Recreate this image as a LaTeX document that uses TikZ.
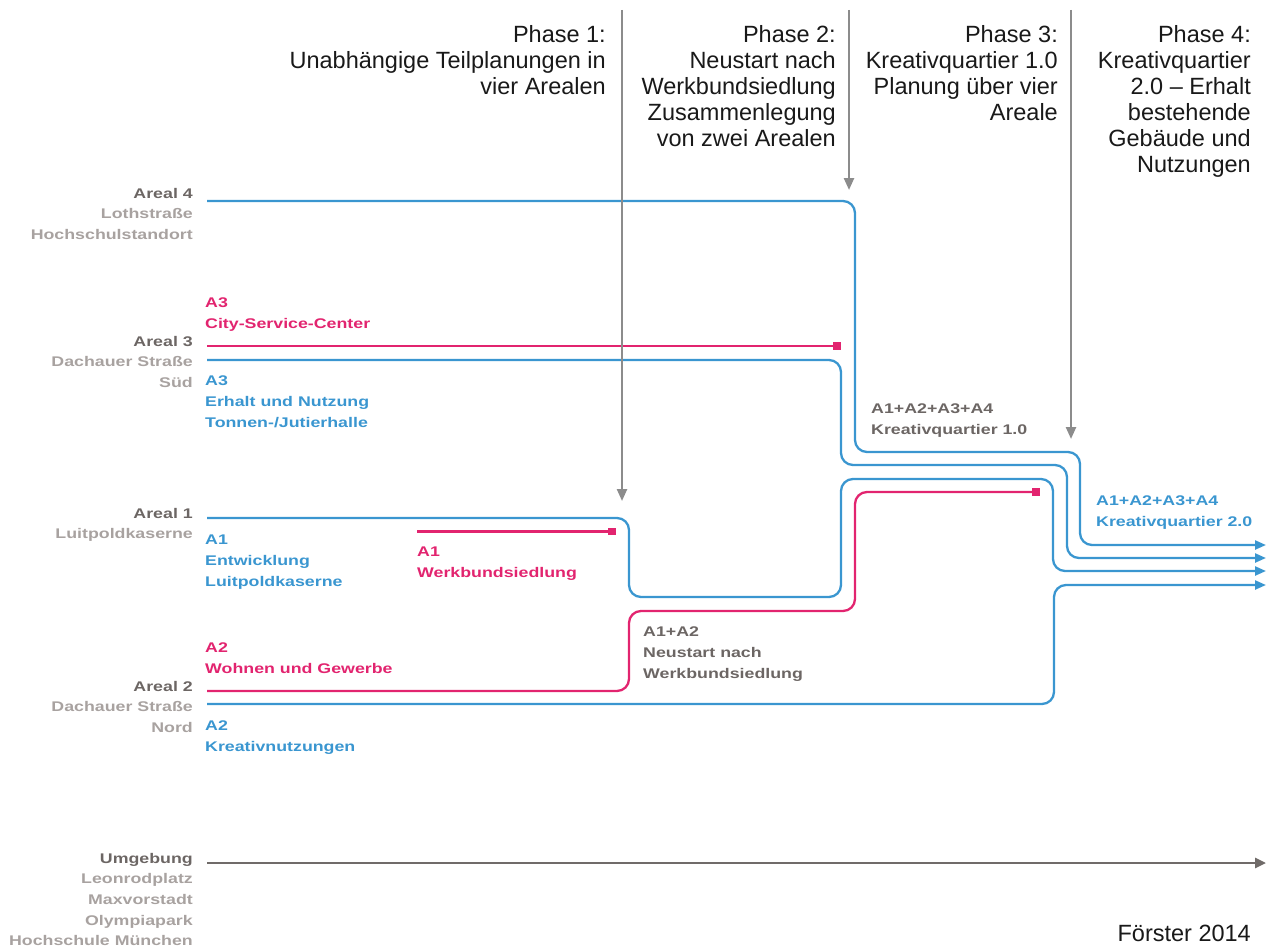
\documentclass[tikz,border=0pt]{standalone}
\usepackage{fontspec}
\setmainfont{Liberation Sans}
\newfontfamily\labelfont[FakeStretch=1.27]{Liberation Sans Bold}
\usetikzlibrary{arrows.meta}

\definecolor{flowblue}{RGB}{58,150,208}
\definecolor{flowpink}{RGB}{226,36,111}
\definecolor{areadark}{RGB}{108,102,100}
\definecolor{arealight}{RGB}{168,162,160}
\definecolor{phasegray}{RGB}{140,140,140}
\definecolor{envgray}{RGB}{112,107,105}

\begin{document}
\begin{tikzpicture}[x=1pt,y=-1pt,
  flow/.style={line width=2.3pt, rounded corners=12pt},
  bluefl/.style={flow, draw=flowblue},
  pinkfl/.style={flow, draw=flowpink},
  outarrow/.style={-{Triangle[length=11pt,width=9pt]}},
  endmark/.style={fill=flowpink, draw=none, minimum size=7.5pt, inner sep=0pt},
  phaseline/.style={draw=phasegray, line width=2.4pt, -{Triangle[length=12pt,width=10pt]}},
  envline/.style={draw=envgray, line width=2.6pt, -{Triangle[length=11pt,width=10pt]}},
  phasetext/.style={anchor=north east, inner sep=0pt, align=right, text=black!90,
    font={\fontsize{23.5}{26}\selectfont}},
  arealabel/.style={anchor=north east, inner sep=0pt, align=right, text=arealight,
    font={\labelfont\fontsize{14}{20.6}\selectfont}},
  usetext/.style={anchor=north west, inner sep=0pt, align=left,
    font={\labelfont\fontsize{14}{20.6}\selectfont}},
]
\useasboundingbox (0,0) rectangle (1268,950);

% entry and exit points of the flows
\coordinate (a4in) at (207,201);
\coordinate (a3pin) at (207,346);
\coordinate (a3bin) at (207,360);
\coordinate (a1bin) at (207,518);
\coordinate (a1pin) at (417,531.5);
\coordinate (a2pin) at (207,691);
\coordinate (a2bin) at (207,704);
\coordinate (envin) at (207,863);
\coordinate (out1) at (1266,545);
\coordinate (out2) at (1266,558);
\coordinate (out3) at (1266,571);
\coordinate (out4) at (1266,585);
\coordinate (envout) at (1266,863);

% end marks of discontinued plans
\node[endmark] (cscend) at (837,346) {};
\node[endmark] (wbsend) at (612,531.5) {};
\node[endmark] (a12end) at (1036,492) {};

% blue flows (continued plans)
\draw[bluefl, outarrow] (a4in) -- (855,201) -- (855,452) -- (1080,452) -- (1080,545) -- (out1);
\draw[bluefl, outarrow] (a3bin) -- (841,360) -- (841,465) -- (1067,465) -- (1067,558) -- (out2);
\draw[bluefl, outarrow] (a1bin) -- (629,518) -- (629,597) -- (841,597) -- (841,479) -- (1053,479) -- (1053,571) -- (out3);
\draw[bluefl, outarrow] (a2bin) -- (1054,704) -- (1054,585) -- (out4);

% magenta flows (abandoned plans)
\draw[pinkfl] (a3pin) -- (cscend.center);
\draw[pinkfl] (a1pin) -- (wbsend.center);
\draw[pinkfl] (a2pin) -- (629,691) -- (629,611) -- (855,611) -- (855,492) -- (a12end.center);

% surroundings
\draw[envline] (envin) -- (envout);

% phase separators
\coordinate (p1top) at (622,10);
\coordinate (p1tip) at (622,501);
\coordinate (p2top) at (849,10);
\coordinate (p2tip) at (849,190);
\coordinate (p3top) at (1071,10);
\coordinate (p3tip) at (1071,439);
\draw[phaseline] (p1top) -- (p1tip);
\draw[phaseline] (p2top) -- (p2tip);
\draw[phaseline] (p3top) -- (p3tip);

% phase headings
\node[phasetext] (ph1) at (606,25.2) {Phase 1:\\Unabhängige Teilplanungen in\\vier Arealen};
\node[phasetext] (ph2) at (836,25.2) {Phase 2:\\Neustart nach\\Werkbundsiedlung\\Zusammenlegung\\von zwei Arealen};
\node[phasetext] (ph3) at (1058,25.2) {Phase 3:\\Kreativquartier 1.0\\Planung über vier\\Areale};
\node[phasetext] (ph4) at (1251,25.2) {Phase 4:\\Kreativquartier\\2.0 – Erhalt\\bestehende\\Gebäude und\\Nutzungen};
\node[phasetext] (src) at (1251,925) {Förster 2014};

% areas
\node[arealabel] (ar4) at (193,188) {{\color{areadark}Areal 4}\\Lothstraße\\Hochschulstandort};
\node[arealabel] (ar3) at (193,336) {{\color{areadark}Areal 3}\\Dachauer Straße\\Süd};
\node[arealabel] (ar1) at (193,508) {{\color{areadark}Areal 1}\\Luitpoldkaserne};
\node[arealabel] (ar2) at (193,681) {{\color{areadark}Areal 2}\\Dachauer Straße\\Nord};
\node[arealabel] (env) at (193,853) {{\color{areadark}Umgebung}\\Leonrodplatz\\Maxvorstadt\\Olympiapark\\Hochschule München};

% plan labels
\node[usetext, text=flowpink] (u3p) at (205,298) {A3\\City-Service-Center};
\node[usetext, text=flowblue] (u3b) at (205,376) {A3\\Erhalt und Nutzung\\Tonnen-/Jutierhalle};
\node[usetext, text=flowblue] (u1b) at (205,535) {A1\\Entwicklung\\Luitpoldkaserne};
\node[usetext, text=flowpink] (u1p) at (417,547) {A1\\Werkbundsiedlung};
\node[usetext, text=flowpink] (u2p) at (205,643) {A2\\Wohnen und Gewerbe};
\node[usetext, text=flowblue] (u2b) at (205,721) {A2\\Kreativnutzungen};
\node[usetext, text=areadark] (u12) at (643,627) {A1+A2\\Neustart nach\\Werkbundsiedlung};
\node[usetext, text=areadark] (kq1) at (871,404) {A1+A2+A3+A4\\Kreativquartier 1.0};
\node[usetext, text=flowblue] (kq2) at (1096,496) {A1+A2+A3+A4\\Kreativquartier 2.0};
\end{tikzpicture}
\end{document}
